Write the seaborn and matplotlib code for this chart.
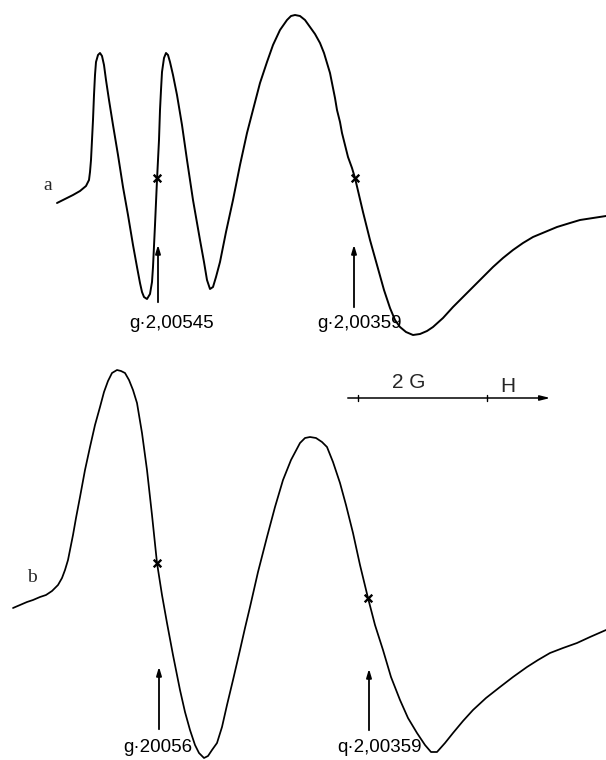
import matplotlib
matplotlib.use("Agg")
import matplotlib.pyplot as plt
import seaborn as sns

sns.set_style("white")
plt.rcParams['font.family'] = ['Liberation Sans', 'DejaVu Sans']

# traced spectrum a (field position, signal) in picture units
a_x = [57, 65, 73, 80, 86, 89, 90, 91, 92, 93, 94, 95, 96, 98, 100, 102, 104, 106, 109, 113,
       118, 123, 128, 133, 137, 140, 142, 144, 147, 150, 152, 153, 155, 157, 159, 160, 161, 162,
       164, 166, 168, 170, 173, 177, 182, 187, 193, 200, 204, 207, 210, 213, 216, 220, 226, 233,
       240, 247, 254, 260, 267, 273, 280, 287, 291, 295, 300, 305, 310, 315, 320, 324, 327, 330,
       332, 335, 337, 340, 342, 345, 348, 352, 355, 359, 363, 370, 377, 384, 390, 395, 400, 406,
       413, 420, 427, 433, 443, 453, 463, 473, 483, 493, 503, 513, 523, 533, 545, 557, 570, 580,
       593, 606]
a_y = [203, 199, 195, 191, 186, 180, 172, 160, 140, 120, 95, 75, 62, 55, 53, 56, 65, 80, 100, 125,
       155, 187, 215, 245, 267, 283, 292, 297, 299, 294, 282, 267, 225, 180, 140, 110, 90, 72,
       58, 53, 55, 62, 75, 95, 125, 160, 200, 240, 262, 280, 289, 287, 277, 262, 232, 200,
       165, 133, 106, 83, 62, 45, 30, 20, 16, 15, 16, 20, 27, 34, 43, 53, 63, 73,
       83, 98, 110, 122, 133, 145, 157, 168, 178, 195, 212, 240, 265, 290, 308, 320, 327, 332,
       335, 334, 331, 327, 318, 307, 297, 287, 277, 267, 258, 250, 243, 237, 232, 227, 223, 220,
       218, 216]

# traced spectrum b
b_x = [13, 20, 27, 33, 40, 46, 52, 58, 62, 65, 68, 70, 73, 76, 80, 85, 90, 95, 100, 104, 108,
       112, 117, 121, 125, 129, 133, 137, 142, 147, 152, 157, 162, 167, 173, 180, 185, 190, 195,
       199, 204, 208, 212, 217, 222, 227, 233, 240, 245, 250, 258, 267, 275, 283, 291, 300, 305,
       310, 316, 322, 327, 333, 340, 346, 353, 360, 368, 375, 383, 391, 400, 408, 417, 425, 431,
       437, 445, 453, 463, 473, 486, 500, 513, 527, 538, 550, 563, 577, 590, 606]
b_y = [608, 605, 602, 600, 597, 595, 591, 585, 578, 570, 560, 550, 535, 518, 497, 470, 447, 425,
       407, 392, 381, 373, 370, 371, 373, 380, 390, 403, 433, 470, 515, 563, 595, 623, 655, 690,
       712, 730, 745, 753, 758, 756, 750, 743, 727, 705, 680, 650, 628, 607, 572, 537, 507, 480,
       460, 443, 438, 437, 438, 442, 447, 462, 483, 505, 533, 565, 598, 625, 650, 677, 700, 718,
       733, 745, 752, 752, 743, 733, 721, 710, 698, 687, 677, 667, 660, 653, 648, 643, 637, 630]

# g-value marks on the curves
mark_x = [157, 355, 157, 368]
mark_y = [178, 178, 563, 598]

# arrows: x, tail y, head y
arr_x = [158, 354, 159, 369]
arr_tail = [305, 310, 732, 733]
arr_head = [242, 242, 664, 666]
g_labels = ["g·2,00545", "g·2,00359", "g·20056", "q·2,00359"]
g_lab_x = [172, 360, 158, 379]
g_lab_y = [323, 323, 747, 748]

fig = plt.figure(figsize=(6.06, 7.6), dpi=100)
ax = fig.add_axes([0, 0, 1, 1])

sns.lineplot(x=a_x, y=a_y, sort=False, estimator=None, color='black', lw=1.4, ax=ax)
sns.lineplot(x=b_x, y=b_y, sort=False, estimator=None, color='black', lw=1.25, ax=ax)
ax.scatter(mark_x, mark_y, marker='x', s=30, color='black', linewidths=1.7, zorder=3)

for x, t, h, lab, lx, ly in zip(arr_x, arr_tail, arr_head, g_labels, g_lab_x, g_lab_y):
    ax.annotate("", xy=(x, h), xytext=(x, t),
                arrowprops=dict(arrowstyle='-|>,head_length=0.5,head_width=0.15',
                                color='black', lw=1.3))
    ax.text(lx, ly, lab, ha='center', va='center', fontsize=13.5, color='black')

ax.text(48, 185, "a", fontsize=14, family='Liberation Serif', ha='center', va='center')
ax.text(32, 578, "b", fontsize=14, family='Liberation Serif', ha='center', va='center')

# field scale: 2 G between the two ticks, arrow along H
ax.annotate("", xy=(553, 398), xytext=(345, 398),
            arrowprops=dict(arrowstyle='-|>,head_length=0.6,head_width=0.15',
                            color='black', lw=1.1))
ax.plot([358, 358], [395, 401], color='black', lw=1)
ax.plot([487, 487], [395, 401], color='black', lw=1)
ax.text(409, 382, "2 G", fontsize=15, ha='center', va='center')
ax.text(508, 386, "H", fontsize=15, ha='center', va='center')

ax.set_xlim(0, 606)
ax.set_ylim(760, 0)
ax.axis('off')

fig.savefig("out.png", dpi=100, facecolor='white')
